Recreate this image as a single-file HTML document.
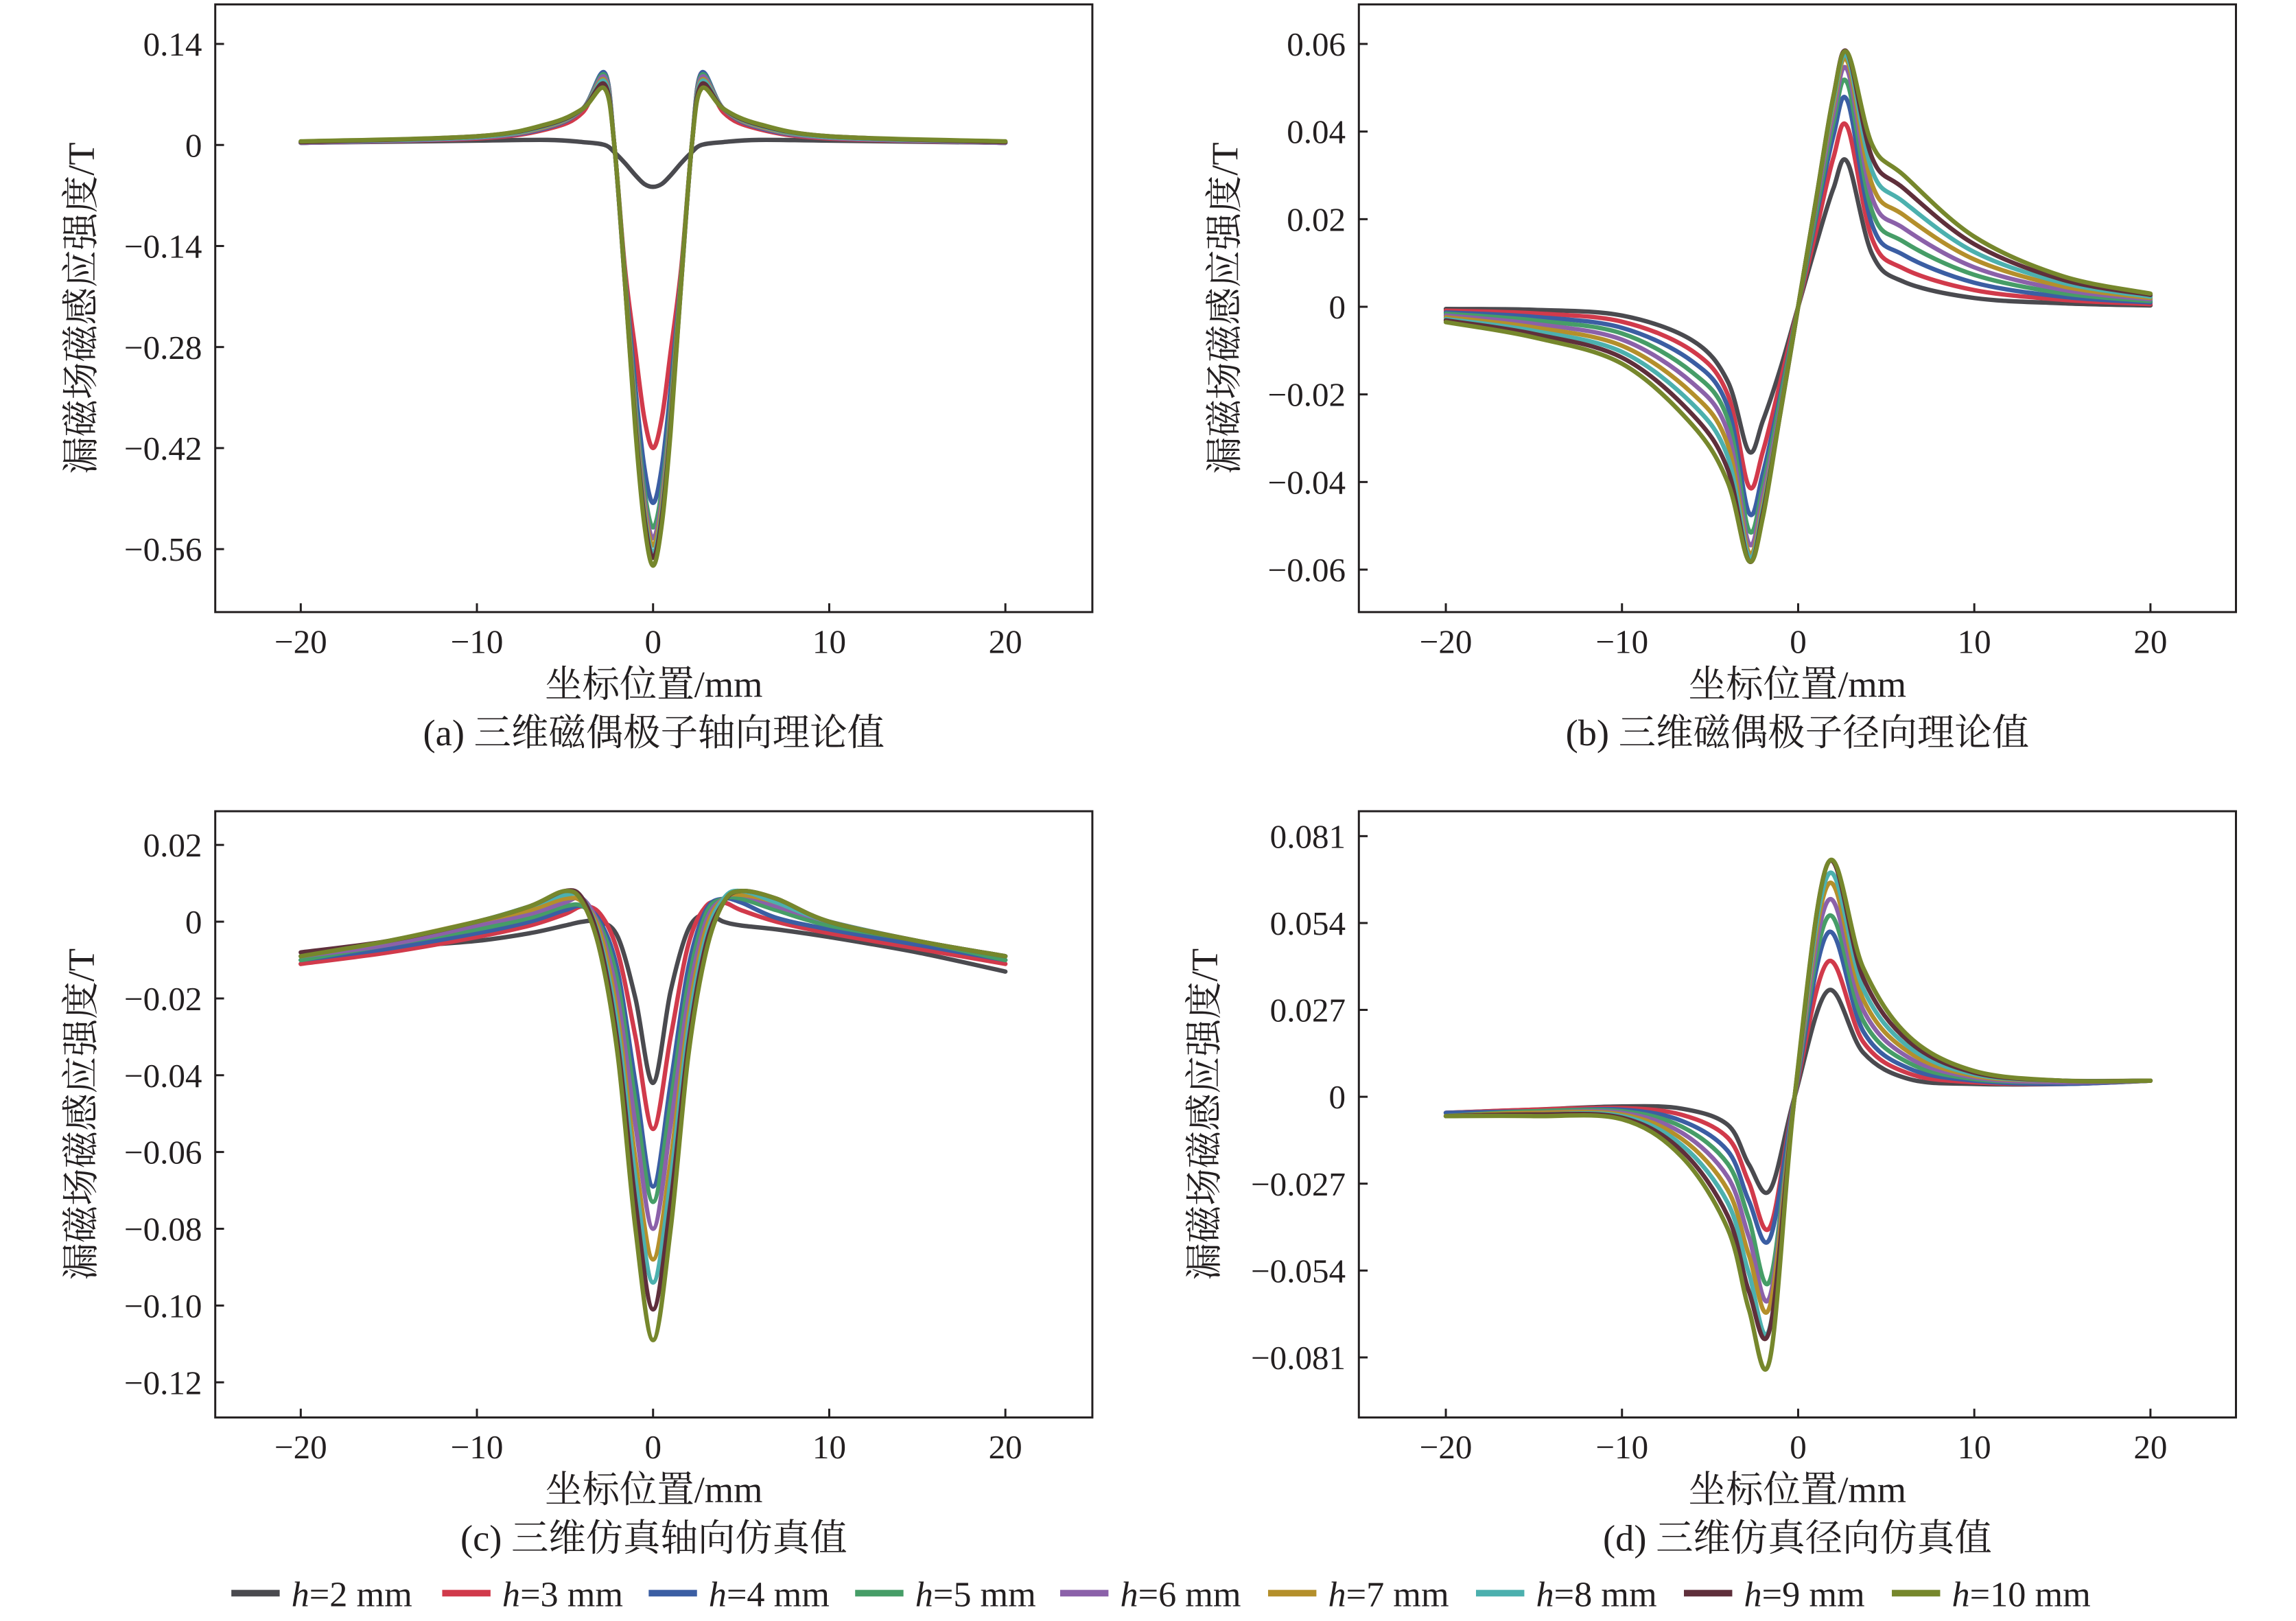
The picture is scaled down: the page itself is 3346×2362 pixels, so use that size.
<!DOCTYPE html>
<html><head><meta charset="utf-8"><style>
html,body{margin:0;padding:0;background:#fff}
svg{display:block}
text{font-family:"Liberation Serif","Noto Serif CJK SC",serif;fill:#231f20}
</style></head><body>
<svg id="fig" xmlns="http://www.w3.org/2000/svg" width="3346" height="2362" viewBox="0 0 1568 1107" preserveAspectRatio="none"></svg>
<script>
const seriesLabels=["2","3","4","5","6","7","8","9","10"];
const colors=["#4a4a4f","#d13a4b","#3b5ea3","#469d67","#8b61a9","#b48f2b","#4cb0ae","#5f2f3b","#76872c"];
const xTickVals=[-20,-10,0,10,20];
const xTickLabels=["−20","−10","0","10","20"];

// Panel a
const aYTicks=[0.14,0,-0.14,-0.28,-0.42,-0.56];
const aYLabels=["0.14","0","−0.14","−0.28","−0.42","−0.56"];
const aX=[-20,-10,-6,-4,-2.75,-2.2,-1.6,-1,-0.5,0,0.5,1,1.6,2.2,2.75,4,6,10,20];
const aH2=[0.003,0.006,0.007,0.004,0.0,-0.01,-0.025,-0.042,-0.054,-0.058,-0.054,-0.042,-0.025,-0.01,0.0,0.004,0.007,0.006,0.003];
const aH3=[0.003,0.009,0.022,0.045,0.1,0,-0.17,-0.286,-0.378,-0.42,-0.378,-0.286,-0.17,0,0.1,0.045,0.022,0.009,0.003];
const aH4=[0.003,0.01,0.024,0.05,0.1,0,-0.18,-0.337,-0.446,-0.496,-0.446,-0.337,-0.18,0,0.1,0.05,0.024,0.01,0.003];
const aH5=[0.003,0.01,0.025,0.05,0.097,0,-0.18,-0.36,-0.477,-0.53,-0.477,-0.36,-0.18,0,0.097,0.05,0.025,0.01,0.003];
const aH6=[0.003,0.01,0.025,0.05,0.094,0,-0.185,-0.371,-0.49,-0.545,-0.49,-0.371,-0.185,0,0.094,0.05,0.025,0.01,0.003];
const aH7=[0.004,0.011,0.026,0.05,0.09,0,-0.185,-0.377,-0.5,-0.555,-0.5,-0.377,-0.185,0,0.09,0.05,0.026,0.011,0.004];
const aH8=[0.004,0.011,0.027,0.05,0.088,0,-0.19,-0.384,-0.509,-0.565,-0.509,-0.384,-0.19,0,0.088,0.05,0.027,0.011,0.004];
const aH9=[0.004,0.012,0.028,0.05,0.084,0,-0.19,-0.389,-0.515,-0.572,-0.515,-0.389,-0.19,0,0.084,0.05,0.028,0.012,0.004];
const aH10=[0.005,0.012,0.029,0.05,0.078,0,-0.19,-0.396,-0.525,-0.583,-0.525,-0.396,-0.19,0,0.078,0.05,0.029,0.012,0.005];

// Panel b
const bYTicks=[0.06,0.04,0.02,0,-0.02,-0.04,-0.06];
const bYLabels=["0.06","0.04","0.02","0","−0.02","−0.04","−0.06"];
const bX=[-20,-15,-10,-6,-4,-2.8,-2,-1,0,1,2,2.8,4.2,6,10,15,20];
const bH2=[-0.0005,-0.0007,-0.002,-0.0077,-0.017,-0.033,-0.026,-0.014,0,0.014,0.027,0.033,0.012,0.0057,0.002,0.0008,0.0003];
const bH3=[-0.0009,-0.0015,-0.0034,-0.0101,-0.020,-0.041,-0.033,-0.017,0,0.017,0.034,0.041,0.0155,0.0087,0.0038,0.0016,0.0006];
const bH4=[-0.0013,-0.0023,-0.0048,-0.0125,-0.0228,-0.047,-0.038,-0.020,0,0.020,0.039,0.047,0.0187,0.0118,0.0055,0.0023,0.001];
const bH5=[-0.0016,-0.0031,-0.0061,-0.015,-0.0256,-0.051,-0.041,-0.021,0,0.021,0.042,0.051,0.0218,0.0148,0.0073,0.0031,0.0013];
const bH6=[-0.002,-0.0039,-0.0075,-0.0174,-0.0285,-0.054,-0.043,-0.023,0,0.023,0.044,0.054,0.0249,0.0179,0.009,0.0039,0.0017];
const bH7=[-0.0024,-0.0047,-0.0089,-0.0198,-0.0314,-0.056,-0.045,-0.024,0,0.024,0.046,0.056,0.0279,0.0209,0.0108,0.0047,0.002];
const bH8=[-0.0028,-0.0055,-0.0103,-0.0222,-0.0342,-0.057,-0.046,-0.024,0,0.024,0.047,0.057,0.031,0.0239,0.0125,0.0055,0.0023];
const bH9=[-0.0031,-0.0062,-0.0116,-0.0246,-0.0371,-0.058,-0.047,-0.024,0,0.024,0.048,0.058,0.034,0.027,0.0143,0.0062,0.0027];
const bH10=[-0.0035,-0.007,-0.013,-0.027,-0.040,-0.058,-0.048,-0.024,0,0.024,0.048,0.058,0.037,0.030,0.016,0.007,0.003];

// Panel c
const cYTicks=[0.02,0,-0.02,-0.04,-0.06,-0.08,-0.10,-0.12];
const cYLabels=["0.02","0","−0.02","−0.04","−0.06","−0.08","−0.10","−0.12"];
const cX=[-20,-15,-10,-7,-5,-4,-3,-2,-1,0,1,2,3,4,5,7,10,15,20];
const cH2=[-0.011,-0.007,-0.005,-0.003,-0.001,0.0,0.0,-0.004,-0.02,-0.042,-0.018,-0.002,0.002,0.0,-0.001,-0.002,-0.004,-0.008,-0.013];
const cH3=[-0.011,-0.008,-0.004,-0.001,0.002,0.004,0.002,-0.008,-0.03,-0.054,-0.03,-0.006,0.004,0.005,0.003,0.0,-0.003,-0.007,-0.011];
const cH4=[-0.01,-0.007,-0.003,0.0,0.003,0.004,0.0,-0.013,-0.042,-0.069,-0.042,-0.012,0.003,0.006,0.005,0.001,-0.002,-0.006,-0.01];
const cH5=[-0.01,-0.006,-0.002,0.001,0.004,0.004,-0.001,-0.016,-0.047,-0.073,-0.047,-0.016,0.002,0.006,0.006,0.003,-0.001,-0.005,-0.01];
const cH6=[-0.009,-0.006,-0.001,0.002,0.005,0.006,-0.002,-0.02,-0.053,-0.08,-0.053,-0.02,0.0,0.006,0.007,0.004,0.0,-0.005,-0.009];
const cH7=[-0.009,-0.005,0.0,0.003,0.006,0.005,-0.003,-0.025,-0.062,-0.088,-0.062,-0.025,-0.002,0.006,0.007,0.005,0.0,-0.005,-0.009];
const cH8=[-0.009,-0.005,0.0,0.004,0.007,0.006,-0.005,-0.028,-0.067,-0.094,-0.067,-0.028,-0.004,0.006,0.008,0.005,0.0,-0.005,-0.009];
const cH9=[-0.008,-0.005,0.0,0.004,0.008,0.006,-0.006,-0.032,-0.073,-0.101,-0.073,-0.032,-0.006,0.005,0.008,0.006,0.0,-0.005,-0.009];
const cH10=[-0.009,-0.005,0.0,0.004,0.008,0.005,-0.008,-0.035,-0.08,-0.109,-0.08,-0.035,-0.008,0.005,0.008,0.006,0.0,-0.005,-0.009];

// Panel d
const dYTicks=[0.081,0.054,0.027,0,-0.027,-0.054,-0.081];
const dYLabels=["0.081","0.054","0.027","0","−0.027","−0.054","−0.081"];
const dX=[-20,-15,-10,-6.6,-4,-2.8,-1.6,-0.2,1.7,3.7,6.3,10,15,20];
const dH2=[-0.005,-0.004,-0.003,-0.0037,-0.0087,-0.021,-0.029,0,0.033,0.0137,0.0055,0.004,0.004,0.005];
const dH3=[-0.005,-0.004,-0.0035,-0.0056,-0.0127,-0.0266,-0.0405,0,0.042,0.017,0.0072,0.0045,0.004,0.005];
const dH4=[-0.005,-0.0045,-0.004,-0.0075,-0.0168,-0.0323,-0.044,0,0.051,0.0203,0.0088,0.005,0.004,0.005];
const dH5=[-0.006,-0.0045,-0.0045,-0.0093,-0.0208,-0.0379,-0.057,0,0.056,0.0236,0.0105,0.0055,0.0045,0.005];
const dH6=[-0.006,-0.005,-0.005,-0.0112,-0.0249,-0.0435,-0.062,0,0.061,0.0269,0.0121,0.006,0.0045,0.005];
const dH7=[-0.006,-0.005,-0.0055,-0.0131,-0.0289,-0.0491,-0.065,0,0.066,0.0302,0.0138,0.0065,0.005,0.005];
const dH8=[-0.006,-0.0055,-0.006,-0.015,-0.0329,-0.0548,-0.0716,0,0.069,0.0335,0.0154,0.007,0.005,0.005];
const dH9=[-0.006,-0.0055,-0.0065,-0.0168,-0.037,-0.0604,-0.072,0,0.0727,0.0368,0.0171,0.0075,0.005,0.005];
const dH10=[-0.006,-0.006,-0.007,-0.0187,-0.041,-0.066,-0.0815,0,0.0727,0.040,0.0187,0.008,0.005,0.005];

const NS="http://www.w3.org/2000/svg";
const svg=document.getElementById('fig');
function mk(tag,attrs,parent){const e=document.createElementNS(NS,tag);for(const k in attrs)e.setAttribute(k,attrs[k]);(parent||svg).appendChild(e);return e;}

const panels=[
 {id:'a',box:[147,3,746,418],x0:446,y:[aYTicks[0],30,aYTicks[5],375],ticks:aYTicks,labels:aYLabels,xs:aX,series:[aH2,aH3,aH4,aH5,aH6,aH7,aH8,aH9,aH10],cap:"(a) 三维磁偶极子轴向理论值"},
 {id:'b',box:[928,3,1527,418],x0:1228,y:[bYTicks[0],30,bYTicks[6],389],ticks:bYTicks,labels:bYLabels,xs:bX,series:[bH2,bH3,bH4,bH5,bH6,bH7,bH8,bH9,bH10],cap:"(b) 三维磁偶极子径向理论值"},
 {id:'c',box:[147,554,746,968],x0:446,y:[cYTicks[0],577,cYTicks[7],944],ticks:cYTicks,labels:cYLabels,xs:cX,series:[cH2,cH3,cH4,cH5,cH6,cH7,cH8,cH9,cH10],cap:"(c) 三维仿真轴向仿真值"},
 {id:'d',box:[928,554,1527,968],x0:1228,y:[dYTicks[0],571,dYTicks[6],927],ticks:dYTicks,labels:dYLabels,xs:dX,series:[dH2,dH3,dH4,dH5,dH6,dH7,dH8,dH9,dH10],cap:"(d) 三维仿真径向仿真值"}
];

function catmull(pts){
  let d="M"+pts[0][0].toFixed(2)+","+pts[0][1].toFixed(2);
  for(let i=0;i<pts.length-1;i++){
    const p0=pts[Math.max(0,i-1)],p1=pts[i],p2=pts[i+1],p3=pts[Math.min(pts.length-1,i+2)];
    const c1=[p1[0]+(p2[0]-p0[0])/6,p1[1]+(p2[1]-p0[1])/6];
    const c2=[p2[0]-(p3[0]-p1[0])/6,p2[1]-(p3[1]-p1[1])/6];
    d+="C"+c1[0].toFixed(2)+","+c1[1].toFixed(2)+" "+c2[0].toFixed(2)+","+c2[1].toFixed(2)+" "+p2[0].toFixed(2)+","+p2[1].toFixed(2);
  }
  return d;
}

panels.forEach(p=>{
  const [L,T,R,B]=p.box;
  const kx=12.03;
  const sx=v=>p.x0+v*kx;
  const sy=v=>p.y[1]+(v-p.y[0])*(p.y[3]-p.y[1])/(p.y[2]-p.y[0]);
  const g=mk('g',{});
  
  
  const cl=mk('clipPath',{id:'clip'+p.id},g);
  mk('rect',{x:L,y:T,width:R-L,height:B-T},cl);
  const lines=mk('g',{'clip-path':'url(#clip'+p.id+')'},g);
  
  
  p.series.forEach((vals,si)=>{
    const pts=p.xs.map((x,i)=>[sx(x),sy(vals[i])]);
    const path=mk('path',{d:catmull(pts),fill:'none',stroke:colors[si],'stroke-width':3,'stroke-linejoin':'round','stroke-linecap':'round'},lines);
    
    
  });
  const frame=mk('rect',{x:L,y:T,width:R-L,height:B-T,fill:'none',stroke:'#231f20','stroke-width':1.4},g);
  
  
  const ya=mk('g',{},g);
  
  
  p.ticks.forEach((v,i)=>{
    const y=sy(v);
    mk('line',{x1:L,x2:L+6,y1:y,y2:y,stroke:'#231f20','stroke-width':1.4},ya);
    const t=mk('text',{x:L-9,y:y+8,'text-anchor':'end','font-size':23},ya);
    t.textContent=p.labels[i];
    
    
  });
  const xa=mk('g',{},g);
  
  
  xTickVals.forEach((v,i)=>{
    const x=sx(v);
    mk('line',{x1:x,x2:x,y1:B,y2:B-6,stroke:'#231f20','stroke-width':1.4},xa);
    const t=mk('text',{x:x,y:B+28,'text-anchor':'middle','font-size':23},xa);
    t.textContent=xTickLabels[i];
    
    
  });
  const xt=mk('text',{x:(L+R)/2,y:B+58,'text-anchor':'middle','font-size':25.5},g);
  xt.textContent="坐标位置/mm";
  
  
  const cap=mk('text',{x:(L+R)/2,y:B+91,'text-anchor':'middle','font-size':25.5},g);
  cap.textContent=p.cap;
  
  
  const yx=(p.id==='d')?L-106:L-92;
  const yt=mk('text',{x:0,y:0,'text-anchor':'middle','font-size':25.5,transform:'translate('+(yx+9)+','+((T+B)/2)+') rotate(-90)'},g);
  yt.textContent="漏磁场磁感应强度/T";
  
  
});

const lg=mk('g',{});


const legX=[158,302,443,584,724,866,1008,1150,1292];
seriesLabels.forEach((s,i)=>{
  const e=mk('g',{},lg);
  
  
  mk('line',{x1:legX[i],x2:legX[i]+33,y1:1088,y2:1088,stroke:colors[i],'stroke-width':4.5},e);
  const t=mk('text',{x:legX[i]+41,y:1097,'font-size':24.5},e);
  const it=mk('tspan',{'font-style':'italic'},t);
  it.textContent='h';
  const rest=mk('tspan',{},t);
  rest.textContent='='+s+' mm';
});
</script>
</body></html>
